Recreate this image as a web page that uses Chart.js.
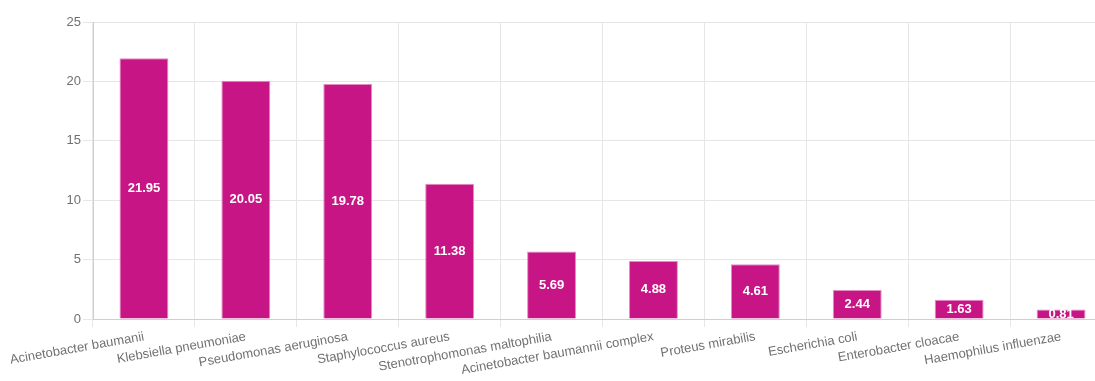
<!DOCTYPE html>
<html>
<head>
<meta charset="utf-8">
<script src="https://cdn.jsdelivr.net/npm/chart.js@4"></script>
<style>
  html, body { margin: 0; padding: 0; background: #fff; overflow: hidden; }
  #wrap { width: 1118px; height: 381px; position: relative; }
</style>
</head>
<body>
<div id="wrap"><canvas id="bar-chart"></canvas></div>
<script>
const organisms = ['Acinetobacter baumanii', 'Klebsiella pneumoniae', 'Pseudomonas aeruginosa',
  'Staphylococcus aureus', 'Stenotrophomonas maltophilia', 'Acinetobacter baumannii complex',
  'Proteus mirabilis', 'Escherichia coli', 'Enterobacter cloacae', 'Haemophilus influenzae'];
const percentages = [21.95, 20.05, 19.78, 11.38, 5.69, 4.88, 4.61, 2.44, 1.63, 0.81];
const yTicks = [0, 5, 10, 15, 20, 25];

// white value labels in the middle of each bar
const valueLabels = {
  id: 'valueLabels',
  afterDatasetsDraw(chart) {
    const ctx = chart.ctx;
    ctx.save();
    ctx.font = 'bold 13px "Liberation Sans", Arial, sans-serif';
    ctx.fillStyle = '#ffffff';
    ctx.textAlign = 'center';
    ctx.textBaseline = 'middle';
    chart.getDatasetMeta(0).data.forEach((bar, i) => {
      const p = bar.getCenterPoint();
      ctx.fillText(percentages[i].toFixed(2), p.x, p.y);
    });
    ctx.restore();
  }
};

Chart.defaults.font.family = '"Liberation Sans", Arial, sans-serif';
Chart.defaults.font.size = 13;
Chart.defaults.color = '#707070';

new Chart(document.getElementById('bar-chart'), {
  type: 'bar',
  data: {
    labels: organisms,
    datasets: [{
      data: percentages,
      backgroundColor: '#c71585',
      borderColor: '#e58cc4',
      borderWidth: 1,
      barPercentage: 0.48,
      categoryPercentage: 1.0
    }]
  },
  options: {
    responsive: true,
    maintainAspectRatio: false,
    animation: false,
    layout: { padding: { top: 22, right: 6, left: 0, bottom: 0 } },
    plugins: {
      legend: { display: false },
      tooltip: { enabled: false }
    },
    scales: {
      x: {
        afterFit(axis) { axis.height = 62; },
        grid: { color: '#e6e6e6', tickLength: 8 },
        border: { color: '#cfcfcf' },
        ticks: { minRotation: 10, maxRotation: 10, autoSkip: false, padding: 2 }
      },
      y: {
        min: 0,
        max: 25,
        afterBuildTicks(axis) { axis.ticks = yTicks.map(v => ({ value: v })); },
        afterFit(axis) { axis.width = 93; },
        grid: { color: '#e6e6e6', tickLength: 10 },
        border: { color: '#cfcfcf' },
        ticks: { padding: 2 }
      }
    }
  },
  plugins: [valueLabels]
});
</script>
</body>
</html>
